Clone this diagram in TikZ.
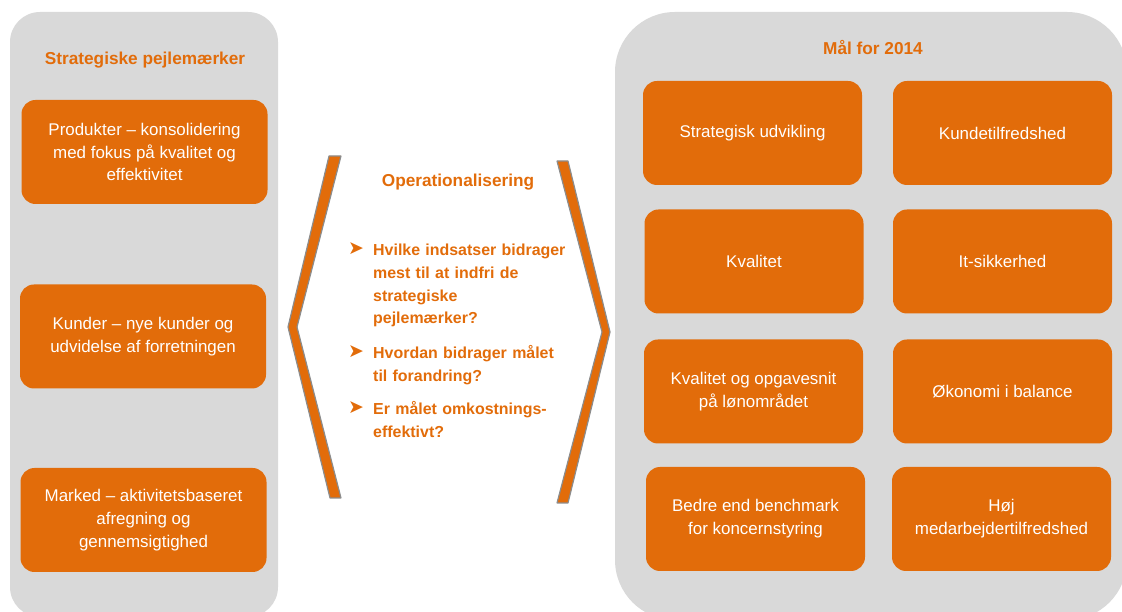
\documentclass[tikz,border=0pt]{standalone}
\usepackage{fontspec}
\setmainfont{Liberation Sans}
\newfontfamily\dejavu{DejaVu Sans}
\definecolor{orng}{RGB}{226,108,10}
\definecolor{panelgray}{RGB}{217,217,217}
\definecolor{edgegray}{RGB}{140,140,140}

\begin{document}
\begin{tikzpicture}[>=latex,line join=bevel,
  goal/.style={fill=orng,text=white,rounded corners=14bp,minimum width=219bp,minimum height=104bp,align=center,font=\fontsize{17}{23}\selectfont},
  pejl/.style={goal,minimum width=246bp},
  overskrift/.style={text=orng,font=\bfseries\fontsize{17.3}{20}\selectfont},
  ask/.style={text=orng,anchor=base west,text width=215bp,align=left,inner sep=0pt,font=\bfseries\fontsize{16}{22.7}\selectfont},
  pil/.style={text=orng,font=\dejavu\fontsize{19}{19}\selectfont},
  klamme/.style={fill=orng,draw=edgegray,line width=1.2bp}]
  \path[use as bounding box,clip] (0,0) rectangle (1122bp,612bp);
  \fill[panelgray,rounded corners=30bp] (10bp,-5bp) rectangle (278bp,600bp);
  \fill[panelgray,rounded corners=60bp] (615bp,-8bp) rectangle (1127bp,600bp);
  \node (pejltitel) at (145bp,552bp) [overskrift] {Strategiske pejlemærker};
  \node (maltitel) at (873bp,564bp) [overskrift] {Mål for 2014};
  \node (p1) at (144.5bp,460bp) [pejl] {Produkter – konsolidering\\med fokus på kvalitet og\\effektivitet};
  \node (p2) at (143bp,275.5bp) [pejl] {Kunder – nye kunder og\\udvidelse af forretningen};
  \node (p3) at (143.5bp,92bp) [pejl] {Marked – aktivitetsbaseret\\afregning og\\gennemsigtighed};
  \node (m1) at (752.5bp,479bp) [goal] {Strategisk udvikling};
  \node (m2) at (1002.5bp,479bp) [goal] {Kundetilfredshed};
  \node (m3) at (754bp,350.5bp) [goal] {Kvalitet};
  \node (m4) at (1002.5bp,350.5bp) [goal] {It-sikkerhed};
  \node (m5) at (753.5bp,220.5bp) [goal] {Kvalitet og opgavesnit\\på lønområdet};
  \node (m6) at (1002.5bp,220.5bp) [goal] {Økonomi i balance};
  \node (m7) at (755.5bp,93bp) [goal] {Bedre end benchmark\\for koncernstyring};
  \node (m8) at (1001.5bp,93bp) [goal] {Høj\\medarbejdertilfredshed};
  \filldraw[klamme] (329bp,456bp) -- (288bp,285bp) -- (330bp,114bp)
    -- (341bp,114bp) -- (297bp,285bp) -- (341bp,456bp) -- cycle;
  \filldraw[klamme] (557bp,451bp) -- (602bp,280bp) -- (557bp,109bp)
    -- (568bp,109bp) -- (610bp,280bp) -- (568bp,451bp) -- cycle;
  \node (optitel) at (458bp,430bp) [overskrift] {Operationalisering};
  \node (b1) at (356bp,363bp) [pil] {➤}; \node (q1) at (373bp,356bp) [ask]
    {Hvilke indsatser bidrager\\mest til at indfri de\\strategiske\\pejlemærker?};
  \node (b2) at (356bp,260bp) [pil] {➤}; \node (q2) at (373bp,253bp) [ask]
    {Hvordan bidrager målet\\til forandring?};
  \node (b3) at (356bp,204bp) [pil] {➤}; \node (q3) at (373bp,197bp) [ask]
    {Er målet omkostnings-\\effektivt?};
\end{tikzpicture}
\end{document}
